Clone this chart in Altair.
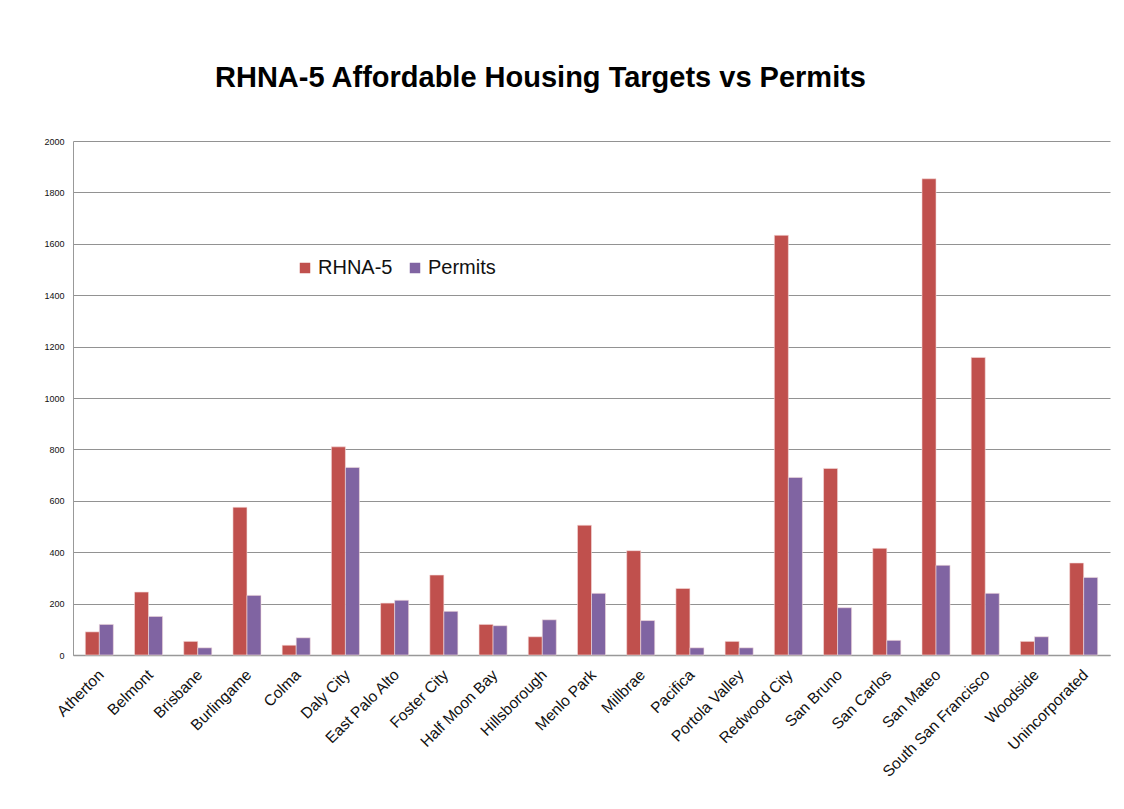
import altair as alt
import pandas as pd

cities = ["Atherton", "Belmont", "Brisbane", "Burlingame", "Colma", "Daly City",
          "East Palo Alto", "Foster City", "Half Moon Bay", "Hillsborough",
          "Menlo Park", "Millbrae", "Pacifica", "Portola  Valley", "Redwood City",
          "San Bruno", "San Carlos", "San Mateo", "South San Francisco",
          "Woodside", "Unincorporated"]
rhna5 = [90, 245, 53, 575, 38, 810, 202, 311, 119, 71, 505, 406, 259, 53, 1633,
         726, 415, 1853, 1158, 53, 358]
permits = [119, 150, 28, 232, 67, 730, 213, 170, 114, 137, 240, 134, 28, 28, 691,
           184, 57, 349, 240, 71, 302]
series = ["RHNA-5", "Permits"]
colors = ["#C0504D", "#8064A2"]

rows = []
for c, r, p in zip(cities, rhna5, permits):
    rows.append({"city": c, "series": "RHNA-5", "value": r})
    rows.append({"city": c, "series": "Permits", "value": p})
df = pd.DataFrame(rows)

chart = alt.Chart(df).mark_bar(stroke="#f5dede", strokeWidth=0.6).encode(
    x=alt.X("city:N", sort=cities, title=None,
            scale=alt.Scale(paddingInner=0.43, paddingOuter=0.25),
            axis=alt.Axis(labelAngle=-45, labelAlign="right", labelBaseline="top",
                          labelFontSize=15.5, labelFont="Liberation Sans", labelColor="#111",
                          labelPadding=12, labelOffset=-3, labelLimit=300, ticks=False,
                          domainColor="#999", domainWidth=1.5, grid=False)),
    xOffset=alt.XOffset("series:N", sort=series),
    y=alt.Y("value:Q", title=None,
            scale=alt.Scale(domain=[0, 2000]),
            axis=alt.Axis(values=list(range(0, 2001, 200)), format="d", labelFontSize=9,
                          labelFont="Liberation Sans", labelColor="#111",
                          ticks=False, labelPadding=9, domainColor="#999",
                          gridColor="#929292", gridWidth=1)),
    color=alt.Color("series:N", sort=series, title=None,
                    scale=alt.Scale(domain=series, range=colors),
                    legend=alt.Legend(orient="none", legendX=222, legendY=117,
                                      direction="horizontal", symbolType="square",
                                      symbolSize=110, symbolStrokeWidth=0,
                                      labelFontSize=20, labelFont="Liberation Sans",
                                      labelColor="#111", columnPadding=12,
                                      labelOffset=3)),
).properties(
    width=1037, height=514,
    title=alt.Title("RHNA-5 Affordable Housing Targets vs Permits",
                    fontSize=29, font="Liberation Sans", fontWeight="bold",
                    color="#000", offset=44, dx=-51),
    autosize=alt.AutoSizeParams(type="none"),
    padding={"left": 65, "top": 133, "right": 6, "bottom": 146},
).configure_view(stroke=None)

chart.save("out.html", embed_options={"renderer": "svg", "actions": False})
